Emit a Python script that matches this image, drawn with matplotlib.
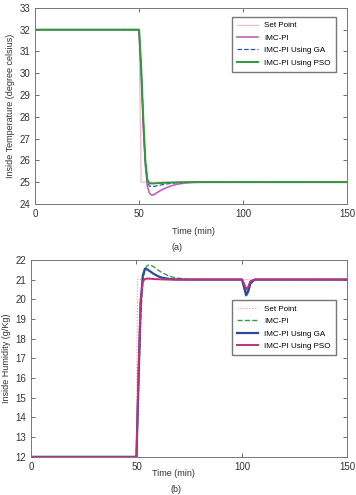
import matplotlib
matplotlib.use('Agg')
import matplotlib.pyplot as plt

plt.rcParams['font.family'] = ['Liberation Sans', 'DejaVu Sans']

# ── Panel (a): inside temperature ─────────────────────────────────────────────
sp_a_t = [0, 50, 51, 150]
sp_a = [32, 32, 25, 25]

t_a = [0, 50, 51, 52, 53, 54, 55, 56, 57, 58, 60, 62, 65, 68, 72, 76, 80, 150]
imc_a = [32, 32, 30.0, 27.6, 25.8, 24.8, 24.5, 24.4, 24.42, 24.48, 24.6, 24.7,
         24.82, 24.9, 24.96, 24.99, 25, 25]
ga_a = [32, 32, 30.2, 27.8, 25.9, 25.0, 24.82, 24.8, 24.8, 24.82, 24.86, 24.9,
        24.94, 24.97, 24.99, 25, 25, 25]
pso_a = [32, 32, 30.3, 28.0, 26.0, 25.1, 24.95, 24.94, 24.94, 24.95, 24.96,
         24.97, 24.98, 24.99, 25, 25, 25, 25]

# ── Panel (b): inside humidity ────────────────────────────────────────────────
sp_b_t = [0, 50, 50.5, 150]
sp_b = [12, 12, 21, 21]

t_b = [0, 50, 51, 52, 53, 54, 55, 56, 57, 58, 60, 62, 65, 68, 72, 76, 80,
       100, 101, 102, 103, 104, 106, 150]
imc_b = [12, 12, 15.5, 19.0, 20.9, 21.5, 21.7, 21.75, 21.72, 21.66, 21.5, 21.36,
         21.2, 21.1, 21.04, 21.01, 21, 21, 20.7, 20.3, 20.5, 20.85, 21, 21]
ga_b = [12, 12, 16.0, 19.8, 21.2, 21.55, 21.52, 21.45, 21.38, 21.3, 21.18, 21.1,
        21.04, 21.01, 21, 21, 21, 21, 20.6, 20.2, 20.4, 20.8, 21, 21]
pso_b = [12, 12, 16.5, 20.0, 20.9, 21.03, 21.05, 21.05, 21.04, 21.03, 21.02,
         21.01, 21, 21, 21, 21, 21, 21, 20.8, 20.5, 20.65, 20.92, 21, 21]

labels = ['Set Point', 'IMC-PI', 'IMC-PI Using GA', 'IMC-PI Using PSO']
TXT = '#333333'

fig = plt.figure(figsize=(3.56, 4.95), dpi=100)
ax1 = fig.add_axes([0.098, 0.588, 0.878, 0.396])
ax2 = fig.add_axes([0.087, 0.077, 0.889, 0.398])

ax1.plot(sp_a_t, sp_a, color='#f6b8c8', lw=0.9, label=labels[0])
ax1.plot(t_a, imc_a, color='#c060c0', lw=1.2, label=labels[1])
ax1.plot(t_a, ga_a, color='#3050b0', lw=0.9, ls='--', label=labels[2])
ax1.plot(t_a, pso_a, color='#2e9a3c', lw=1.4, label=labels[3])
ax1.set_xlim(0, 150)
ax1.set_ylim(24, 33)
ax1.set_xticks([0, 50, 100, 150])
ax1.set_yticks(range(24, 34))
ax1.set_ylabel('Inside Temperature (degree celsius)', fontsize=6.5, color=TXT, labelpad=3)
ax1.legend(loc='upper right', fontsize=5.8, frameon=True, fancybox=False,
           edgecolor='#555555', borderpad=0.6, handlelength=2.6,
           bbox_to_anchor=(0.975, 0.975), labelspacing=0.6)

ax2.plot(sp_b_t, sp_b, color='#f08a9a', lw=0.8, ls=':', label=labels[0])
ax2.plot(t_b, imc_b, color='#3a9a40', lw=1.0, ls='--', label=labels[1])
ax2.plot(t_b, ga_b, color='#2a4a9a', lw=1.6, label=labels[2])
ax2.plot(t_b, pso_b, color='#c0307f', lw=1.4, label=labels[3])
ax2.set_xlim(0, 150)
ax2.set_ylim(12, 22)
ax2.set_xticks([0, 50, 100, 150])
ax2.set_yticks(range(12, 23))
ax2.set_ylabel('Inside Humidity (g/Kg)', fontsize=6.5, color=TXT, labelpad=3)
ax2.legend(loc='upper right', fontsize=5.8, frameon=True, fancybox=False,
           edgecolor='#555555', borderpad=0.6, handlelength=2.6,
           bbox_to_anchor=(0.975, 0.815), labelspacing=0.6)

for ax in (ax1, ax2):
    ax.tick_params(direction='in', top=True, right=True, labelsize=7,
                   colors='#555555', labelcolor=TXT, length=3, width=0.6)
    for s in ax.spines.values():
        s.set_color('#777777')
        s.set_linewidth(0.7)

fig.text(193 / 356, 1 - 231 / 495, 'Time (min)', fontsize=6.5, color=TXT, ha='center', va='center')
fig.text(177 / 356, 1 - 248 / 495, '(a)', fontsize=6.5, color=TXT, ha='center', va='center')
fig.text(173 / 356, 1 - 474 / 495, 'Time (min)', fontsize=6.5, color=TXT, ha='center', va='center')
fig.text(176 / 356, 1 - 489 / 495, '(b)', fontsize=6.5, color=TXT, ha='center', va='center')

fig.savefig('out.png', dpi=100, facecolor='white')
